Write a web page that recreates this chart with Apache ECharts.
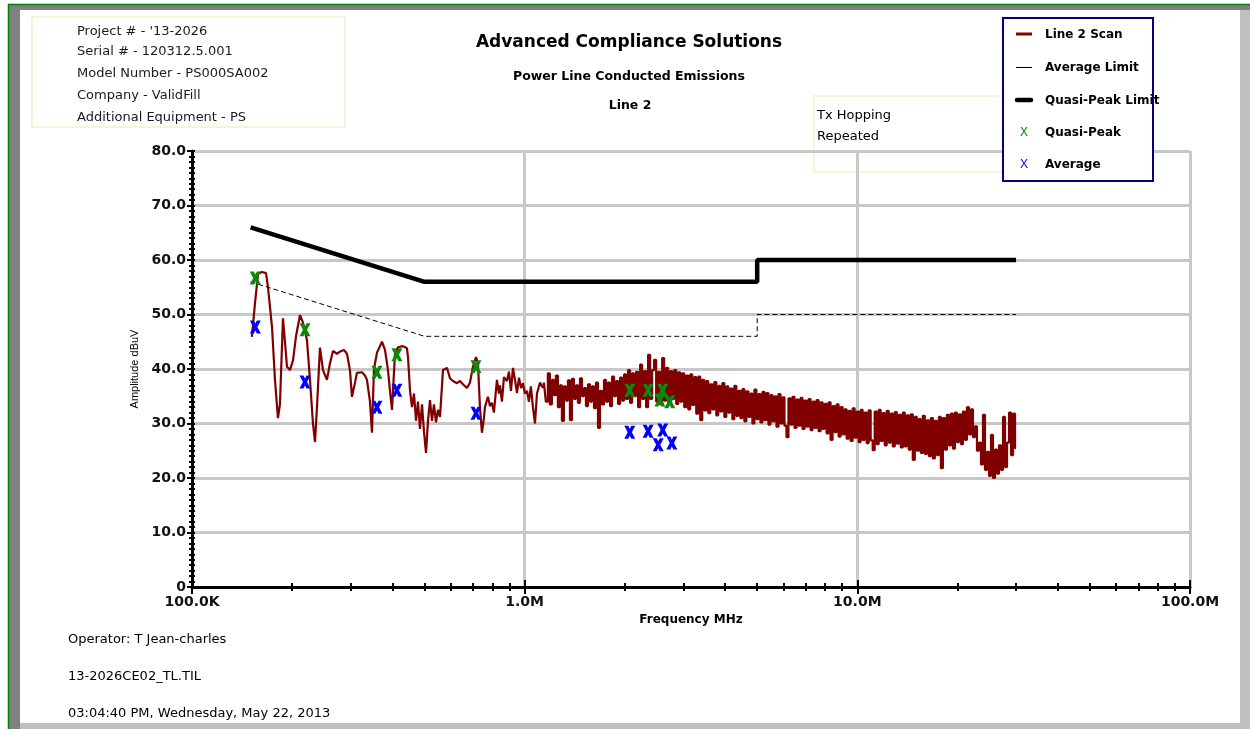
<!DOCTYPE html>
<html>
<head>
<meta charset="utf-8">
<script src="https://cdn.jsdelivr.net/npm/echarts@6/dist/echarts.min.js"></script>
<style>
html,body{margin:0;padding:0;background:#fff;}
#chart{width:1250px;height:729px;}
</style>
</head>
<body>
<div id="chart"></div>
<script>
// ---------------- DATA ----------------
const xDecadesMHz = [0.1, 1, 10, 100];
const xTickLabels = ['100.0K', '1.0M', '10.0M', '100.0M'];
const minorTickFreqsMHz = [0.2,0.3,0.4,0.5,0.6,0.7,0.8,0.9, 2,3,4,5,6,7,8,9, 20,30,40,50,60,70,80,90];
const yTickValues = [0,10,20,30,40,50,60,70,80];

const qpLimitFreqMHz = [0.15, 0.5, 5, 5, 30];
const qpLimitLevel   = [66, 56, 56, 60, 60];
const avgLimitFreqMHz = [0.15, 0.5, 5, 5, 30];
const avgLimitLevel   = [56, 46, 46, 50, 50];

const qpFreqMHz = [0.155, 0.2186, 0.3598, 0.413, 0.714, 2.07, 2.35, 2.6, 2.55, 2.73];
const qpLevel   = [56.7, 47.2, 39.4, 42.6, 40.4, 36.1, 36.1, 36.1, 34.3, 34.0];
const avFreqMHz = [0.155, 0.2186, 0.3598, 0.413, 0.714, 2.07, 2.35, 2.6, 2.52, 2.77];
const avLevel   = [47.7, 37.6, 33.0, 36.1, 31.9, 28.4, 28.6, 28.8, 26.1, 26.4];

// scan trace, low-frequency part (read vertex by vertex)
const scanLowFreqMHz = [0.1514,0.1546,0.158,0.1623,0.1669,0.1692,0.174,0.1776,0.1813,0.1838,
 0.1877,0.1903,0.193,0.197,0.2012,0.2054,0.2112,0.2156,0.2216,0.2263,
 0.231,0.2343,0.2375,0.2425,0.2476,0.2545,0.2598,0.2653,0.2728,0.2785,
 0.2863,0.2923,0.2984,0.3026,0.309,0.3132,0.3243,0.3311,0.3357,0.3428,
 0.3475,0.3524,0.3598,0.3725,0.3803,0.3883,0.3937,0.3992,0.4076,0.4161,
 0.4307,0.4428,0.446,0.4522,0.4585,0.4649,0.4714,0.4779,0.4845,0.4914,
 0.4981,0.5052,0.5122,0.5193,0.5265,0.5339,0.5413,0.5488,0.5565,0.5681,
 0.5841,0.5963,0.6088,0.6258,0.6391,0.6524,0.6707,0.6848,0.699,0.7139,
 0.7239,0.7337,0.744,0.7543,0.7596,0.7755,0.7864,0.7972,0.8083,0.8253,
 0.8369,0.8427,0.8545,0.8663,0.8845,0.8971,0.9096,0.9222,0.9352,0.9482,
 0.9614,0.9748,0.9883,1.002,1.016,1.030,1.044,1.059,1.074,1.089,
 1.112,1.135];
const scanLowLevel = [45.9,52.0,57.5,57.8,57.6,55.0,47.7,38.0,31.0,33.5,
 49.3,45.0,40.4,39.8,41.6,46.0,49.9,48.5,45.3,38.0,
 30.0,26.6,33.0,43.9,39.8,38.0,41.0,43.3,42.8,43.2,
 43.5,42.8,39.8,34.9,37.5,39.3,39.4,38.8,38.0,34.0,
 28.3,40.0,43.0,45.0,43.5,39.8,36.0,32.5,42.9,44.0,
 44.2,43.8,42.2,36.0,33.0,35.5,30.5,34.0,29.0,33.5,
 28.5,24.6,30.5,34.3,30.5,33.5,30.2,32.5,31.2,39.8,
 40.2,38.3,37.8,37.4,37.8,37.2,36.5,37.5,40.4,42.2,
 41.0,33.0,28.3,31.0,33.0,34.9,33.2,33.8,32.0,38.0,
 35.5,37.0,34.0,38.5,37.8,39.5,36.0,40.2,38.0,35.6,
 38.4,36.5,37.4,35.5,36.0,34.0,36.8,33.0,30.0,35.5,
 37.5,36.5];

// scan trace, swept part (log-stepped sweep 1.15 -> 30 MHz)
const scanSweepStartMHz = 1.15;
const scanSweepStopMHz = 30;
const scanSweepLevel = [
 37.5,34.0,39.2,33.5,38.0,35.2,38.8,33.0,37.0,30.5,
 36.8,34.2,37.9,30.6,38.2,34.5,37.0,33.8,38.3,35.0,
 36.5,33.2,37.2,34.0,36.8,32.8,37.5,29.2,36.0,33.5,
 38.0,34.0,37.5,33.2,38.6,35.0,37.8,33.6,38.4,34.2,
 39.0,34.5,39.8,33.8,39.2,35.0,39.5,33.0,40.8,34.5,
 39.6,33.0,42.6,34.5,39.8,41.7,34.0,39.5,33.5,42.0,
 34.2,40.2,33.8,39.6,34.5,39.8,33.6,39.4,34.0,39.2,
 33.0,38.8,32.6,39.0,33.4,38.5,31.8,38.6,30.6,38.0,
 32.4,37.8,31.9,37.2,32.6,37.6,31.5,36.9,32.2,37.4,
 31.2,36.8,32.0,36.4,30.8,36.9,31.4,36.0,31.0,36.3,
 30.4,35.9,31.2,35.5,30.0,36.2,30.8,35.4,30.2,35.8,
 30.6,35.6,29.8,35.2,30.4,35.0,29.4,35.4,30.0,34.8,
 29.6,27.5,34.6,29.8,34.9,29.2,34.4,29.6,34.7,29.0,
 34.2,29.4,34.5,28.8,34.0,29.2,34.3,28.6,33.9,29.0,
 33.6,28.2,33.9,27.0,33.2,28.4,33.5,27.6,33.0,28.0,
 32.6,27.2,32.3,26.8,32.8,27.4,32.2,26.6,32.5,27.0,
 32.0,26.4,32.4,26.9,25.1,32.2,26.2,32.5,26.8,31.9,
 26.0,32.3,26.5,31.8,25.8,32.1,26.3,31.6,25.6,32.0,
 25.8,31.5,25.2,31.7,23.3,31.2,25.0,30.8,24.6,31.4,
 24.4,30.6,24.0,31.0,23.6,30.5,24.2,31.2,21.8,31.0,
 25.2,31.6,26.0,31.8,25.4,32.0,26.6,31.7,26.2,32.2,
 27.0,33.0,28.0,32.6,27.5,29.5,25.0,26.5,22.5,31.6,
 21.5,24.8,20.4,27.9,20.0,25.2,20.8,26.0,21.5,31.2,
 22.0,26.5,32.0,24.2,31.8,25.5];

const infoLines = ["Project # - '13-2026", 'Serial # - 120312.5.001', 'Model Number - PS000SA002', 'Company - ValidFill', 'Additional Equipment - PS'];
const noteLines = ['Tx Hopping', 'Repeated'];
const footerLines = ['Operator: T Jean-charles', '13-2026CE02_TL.TIL', '03:04:40 PM, Wednesday, May 22, 2013'];
const legendNames = ['Line 2 Scan', 'Average Limit', 'Quasi-Peak Limit', 'Quasi-Peak', 'Average'];

// ---------------- BUILD ----------------
const FONT = 'DejaVu Sans';
const pairs = (xs, ys) => xs.map((x, i) => [x, ys[i]]);
const nSweep = scanSweepLevel.length;
const sweepData = scanSweepLevel.map((v, i) => [
  scanSweepStartMHz * Math.pow(scanSweepStopMHz / scanSweepStartMHz, i / (nSweep - 1)), v]);
const lowData = pairs(scanLowFreqMHz, scanLowLevel);
const sweepDataJoined = [lowData[lowData.length - 1]].concat(sweepData);
const minorLog = minorTickFreqsMHz.map(f => Math.log10(f));
const majorLog = xDecadesMHz.map(f => Math.log10(f));

const X_SYMBOL = 'path://M0,0L3.6,0L5,2.8L6.4,0L10,0L6.9,6L10,12L6.4,12L5,9.2L3.6,12L0,12L3.1,6Z';

function txt(x, y, text, font, align, fill, extra) {
  return Object.assign({
    type: 'text', x: x, y: y + 1.5, silent: true,
    style: { text: text, font: font, fill: fill || '#000', textAlign: align || 'left', textVerticalAlign: 'middle',
             align: align || 'left', verticalAlign: 'middle' }
  }, extra || {});
}
function rect(x, y, w, h, style, extra) {
  return Object.assign({ type: 'rect', silent: true, shape: { x: x, y: y, width: w, height: h }, style: style }, extra || {});
}
function seg(x1, y1, x2, y2, style, extra) {
  return Object.assign({ type: 'line', silent: true, shape: { x1: x1, y1: y1, x2: x2, y2: y2 }, style: style }, extra || {});
}

const graphics = [];
// window frame
graphics.push(rect(9, 5, 1241, 5, { fill: '#808080' }));
graphics.push(rect(9, 5, 11, 724, { fill: '#808080' }));
graphics.push(rect(1240, 10, 10, 719, { fill: '#c0c0c0' }));
graphics.push(rect(20, 723, 1220, 6, { fill: '#c0c0c0' }));
graphics.push(seg(8, 4.5, 1250, 4.5, { stroke: '#008000', lineWidth: 1.5 }));
graphics.push(seg(8.5, 4, 8.5, 729, { stroke: '#008000', lineWidth: 1.5 }));

// info box
graphics.push(rect(32, 17, 313, 110, { fill: 'none', stroke: '#fbf0da', lineWidth: 2 }));
const infoY = [30, 50, 72, 94, 116];
infoLines.forEach((t, i) => graphics.push(txt(77, infoY[i], t, '13px "' + FONT + '"', 'left', '#1a1a1a')));

// titles
graphics.push(txt(629, 41, 'Advanced Compliance Solutions', 'bold 17px "' + FONT + '"', 'center'));
graphics.push(txt(629, 75, 'Power Line Conducted Emissions', 'bold 12.5px "' + FONT + '"', 'center'));
graphics.push(txt(630, 104, 'Line 2', 'bold 12.5px "' + FONT + '"', 'center'));

// note box
graphics.push(rect(814, 96, 195, 76, { fill: 'none', stroke: '#fbf0da', lineWidth: 2 }));
graphics.push(txt(817, 114, noteLines[0], '13px "' + FONT + '"', 'left'));
graphics.push(txt(817, 135, noteLines[1], '13px "' + FONT + '"', 'left'));

// legend
graphics.push(rect(1003, 18, 150, 163, { fill: '#fff', stroke: '#000080', lineWidth: 2 }, { z: 100 }));
const legY = [34, 67, 100, 132, 164];
graphics.push(seg(1016, legY[0], 1032, legY[0], { stroke: '#800000', lineWidth: 3 }, { z: 101 }));
graphics.push(seg(1016, legY[1] + 0.5, 1032, legY[1] + 0.5, { stroke: '#000', lineWidth: 1 }, { z: 101 }));
graphics.push(seg(1017, legY[2], 1031, legY[2], { stroke: '#000', lineWidth: 4.5, lineCap: 'round' }, { z: 101 }));
graphics.push(txt(1024, legY[3] - 1, 'X', '12px "Liberation Sans"', 'center', '#008000', { z: 101 }));
graphics.push(txt(1024, legY[4] - 1, 'X', '12px "Liberation Sans"', 'center', '#0000ff', { z: 101 }));
legendNames.forEach((n, i) => graphics.push(txt(1045, legY[i] - 1, n, 'bold 12px "' + FONT + '"', 'left', '#000', { z: 101 })));

// footer
const footY = [638, 675, 712];
footerLines.forEach((t, i) => graphics.push(txt(68, footY[i], t, '13px "' + FONT + '"', 'left')));

const tickStyle = { color: '#000', width: 2 };
function hiddenAxis(extra) {
  return Object.assign({
    axisLine: { show: false, onZero: false }, axisLabel: { show: false }, splitLine: { show: false }
  }, extra);
}

const option = {
  animation: false,
  backgroundColor: '#ffffff',
  textStyle: { fontFamily: FONT },
  grid: { left: 192, top: 151, width: 998, height: 436, containLabel: false },
  xAxis: [
    {
      type: 'log', logBase: 10, min: 0.1, max: 100, position: 'bottom',
      axisLine: { show: true, onZero: false, lineStyle: { color: '#000', width: 3 } },
      axisTick: { show: true, length: 7, lineStyle: tickStyle },
      axisLabel: {
        show: true, margin: 8, fontFamily: FONT, fontWeight: 'bold', fontSize: 14, color: '#111',
        showMinLabel: true, showMaxLabel: true,
        formatter: v => xTickLabels[Math.round(Math.log10(v)) + 1] || ''
      },
      splitLine: { show: true, lineStyle: { color: '#c8c8c8', width: 3 } },
      name: 'Frequency MHz', nameLocation: 'middle', nameGap: 27,
      nameTextStyle: { fontFamily: FONT, fontWeight: 'bold', fontSize: 12, color: '#000' }
    },
    hiddenAxis({ type: 'value', min: -1, max: 2, position: 'bottom',
      axisTick: { show: true, customValues: minorLog, length: 4, lineStyle: tickStyle } }),
    hiddenAxis({ type: 'value', min: -1, max: 2, position: 'bottom',
      axisTick: { show: true, inside: true, customValues: minorLog, length: 4, lineStyle: tickStyle } }),
    hiddenAxis({ type: 'value', min: -1, max: 2, position: 'bottom',
      axisTick: { show: true, inside: true, customValues: majorLog, length: 7, lineStyle: tickStyle } })
  ],
  yAxis: [
    {
      type: 'value', min: 0, max: 80, interval: 10, position: 'left',
      axisLine: { show: true, onZero: false, lineStyle: { color: '#000', width: 3 } },
      axisTick: { show: true, length: 5, lineStyle: tickStyle },
      minorTick: { show: true, splitNumber: 10, length: 3, lineStyle: tickStyle },
      axisLabel: {
        margin: 6, fontFamily: FONT, fontWeight: 'bold', fontSize: 14, color: '#111',
        formatter: v => (v === 0 ? '0' : v.toFixed(1))
      },
      splitLine: { show: true, lineStyle: { color: '#c8c8c8', width: 3 } },
      name: 'Amplitude dBuV', nameLocation: 'middle', nameGap: 44, nameRotate: 90,
      nameTextStyle: { fontFamily: 'Liberation Sans', fontSize: 11, color: '#000' }
    },
    hiddenAxis({ type: 'value', min: 0, max: 80, interval: 10, position: 'left',
      axisTick: { show: true, inside: true, length: 3, lineStyle: tickStyle },
      minorTick: { show: true, splitNumber: 10, length: 3, lineStyle: tickStyle } })
  ],
  graphic: { elements: graphics },
  series: [
    {
      name: 'Line 2 Scan', type: 'line', xAxisIndex: 0, yAxisIndex: 0,
      data: lowData, showSymbol: false, symbol: 'none', z: 3,
      lineStyle: { color: '#800000', width: 2.2 }, itemStyle: { color: '#800000' }
    },
    {
      name: 'Line 2 Scan', type: 'line', xAxisIndex: 0, yAxisIndex: 0,
      data: sweepDataJoined, showSymbol: false, symbol: 'none', z: 3, step: 'middle',
      lineStyle: { color: '#800000', width: 2.2 }, itemStyle: { color: '#800000' }
    },
    {
      name: 'Average Limit', type: 'line', xAxisIndex: 0, yAxisIndex: 0,
      data: pairs(avgLimitFreqMHz, avgLimitLevel), showSymbol: false, symbol: 'none', z: 4,
      lineStyle: { color: '#000', width: 1, type: [5, 3] }, itemStyle: { color: '#000' }
    },
    {
      name: 'Quasi-Peak Limit', type: 'line', xAxisIndex: 0, yAxisIndex: 0,
      data: pairs(qpLimitFreqMHz, qpLimitLevel), showSymbol: false, symbol: 'none', z: 4,
      lineStyle: { color: '#000', width: 4.5 }, itemStyle: { color: '#000' }
    },
    {
      name: 'Quasi-Peak', type: 'scatter', xAxisIndex: 0, yAxisIndex: 0,
      data: pairs(qpFreqMHz, qpLevel), symbol: X_SYMBOL, symbolSize: [11, 13], z: 6,
      itemStyle: { color: '#0a8a0a', opacity: 1 }
    },
    {
      name: 'Average', type: 'scatter', xAxisIndex: 0, yAxisIndex: 0,
      data: pairs(avFreqMHz, avLevel), symbol: X_SYMBOL, symbolSize: [11, 13], z: 6,
      itemStyle: { color: '#0000ff', opacity: 1 }
    }
  ]
};

const chart = echarts.init(document.getElementById('chart'), null, { renderer: 'canvas' });
chart.setOption(option);
</script>
</body>
</html>
